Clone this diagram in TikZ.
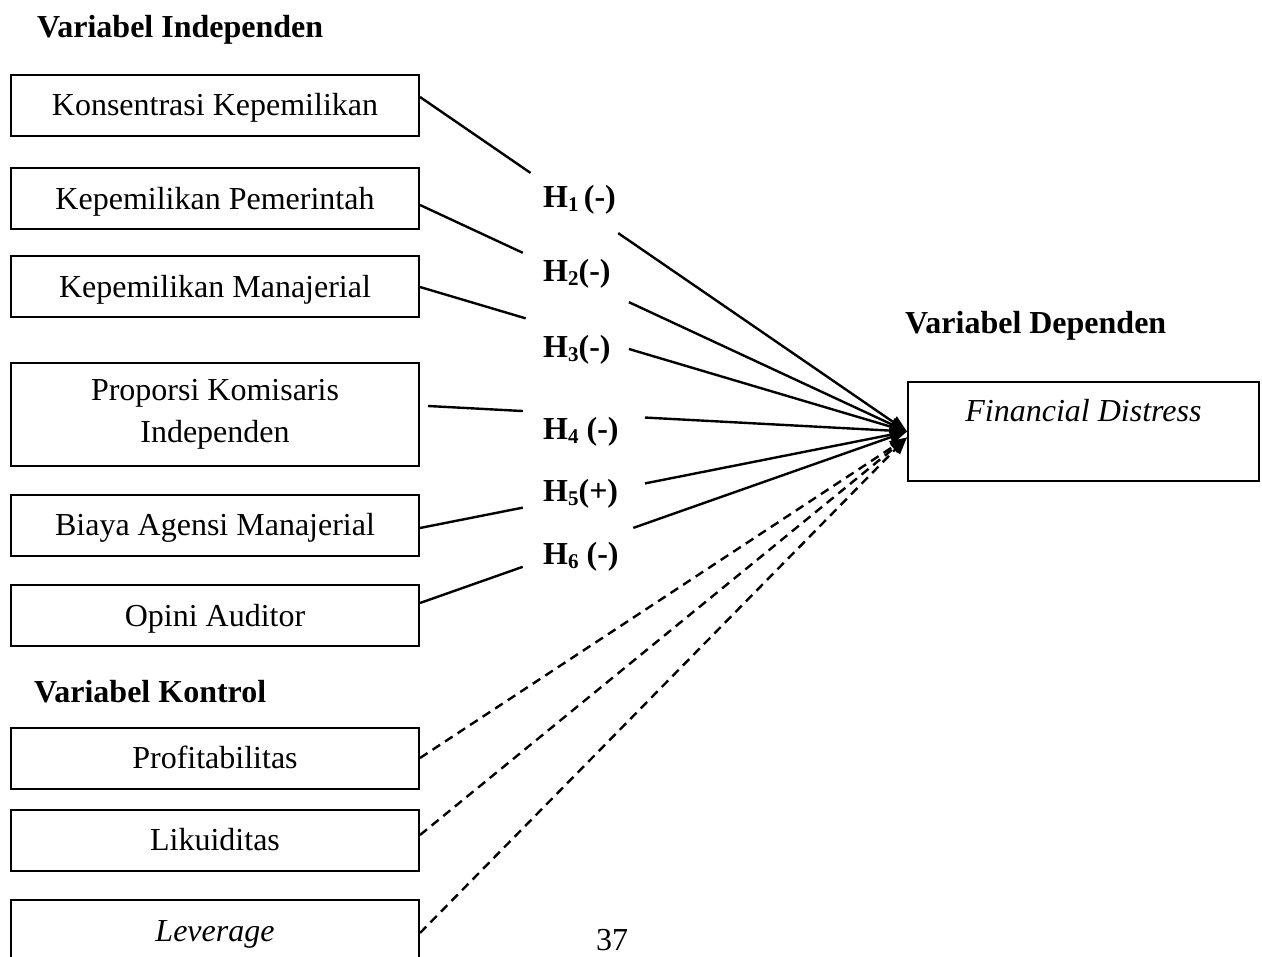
\documentclass[tikz,border=0pt]{standalone}
\usepackage{fontspec}
\setmainfont{Liberation Serif}
\usetikzlibrary{arrows.meta}
\newcommand{\hsub}[1]{\raisebox{-0.12em}{\fontsize{21}{21}\selectfont #1}}
\begin{document}
\begin{tikzpicture}[x=1pt,y=-1pt,
  big/.style={font=\fontsize{32}{42}\selectfont},
  box/.style={big, draw, line width=2pt, minimum width=408pt, minimum height=61pt,
    inner sep=0pt, text height=21pt, text depth=0pt, align=center},
  multi/.style={text height=, text depth=},
  head/.style={big, font=\fontsize{32}{42}\selectfont\bfseries, inner sep=0pt, anchor=base west},
  hyp/.style={head},
  conn/.style={line width=2.4pt},
  arr/.style={conn, -{Triangle[length=17pt,width=13pt]}},
  ctrl/.style={arr, dash pattern=on 9pt off 6pt}
]
\useasboundingbox (0,0) rectangle (1262,957);
\clip (0,0) rectangle (1262,957);

% headings
\node[head] (hi) at (37,38) {Variabel Independen};
\node[head] (hd) at (905,334) {Variabel Dependen};
\node[head] (hk) at (34,702) {Variabel Kontrol};

% independent variables
\node[box] (k1) at (215,105.5) {Konsentrasi Kepemilikan};
\node[box] (k2) at (215,199) {Kepemilikan Pemerintah};
\node[box] (k3) at (215,287) {Kepemilikan Manajerial};
\node[box, multi, minimum height=103pt] (k4) at (215,414.5) {Proporsi Komisaris\\Independen};
\node[box] (k5) at (215,525.5) {Biaya Agensi Manajerial};
\node[box] (k6) at (215,615.5) {Opini Auditor};

% control variables
\node[box] (k7) at (215,758) {Profitabilitas};
\node[box] (k8) at (215,840) {Likuiditas};
\node[box] (k9) at (215,930.5) {\textit{Leverage}};

% dependent variable
\node[box, multi, minimum width=351pt, minimum height=99pt] (fd) at (1083.5,431.5) {\textit{Financial Distress}\\\mbox{}};

% hypothesis labels
\node[hyp] (h1) at (543,208) {H\hsub{1}\,(-)};
\node[hyp] (h2) at (543,282) {H\hsub{2}(-)};
\node[hyp] (h3) at (543,358) {H\hsub{3}(-)};
\node[hyp] (h4) at (543,440) {H\hsub{4} (-)};
\node[hyp] (h5) at (543,502) {H\hsub{5}(+)};
\node[hyp] (h6) at (543,565) {H\hsub{6} (-)};

% page number
\node[big, inner sep=0pt, anchor=base] (pg) at (612,950) {37};

% connector end points
\coordinate (s1) at ([yshift=8.5pt]k1.east);
\coordinate (s2) at ([yshift=-6pt]k2.east);
\coordinate (s3) at (k3.east);
\coordinate (s4) at ([xshift=8pt,yshift=8.5pt]k4.east);
\coordinate (s5) at ([yshift=-2.5pt]k5.east);
\coordinate (s6) at ([yshift=12.5pt]k6.east);
\coordinate (s7) at (k7.east);
\coordinate (s8) at ([yshift=5pt]k8.east);
\coordinate (s9) at ([yshift=-2.5pt]k9.east);
\coordinate (t) at (fd.west);
\coordinate (td) at ([yshift=-6pt]fd.west);

% hypothesis connectors (interrupted at the labels)
\path (s1) -- (t) coordinate[pos=0.227] (a1) coordinate[pos=0.407] (b1);
\path (s2) -- (t) coordinate[pos=0.211] (a2) coordinate[pos=0.429] (b2);
\path (s3) -- (t) coordinate[pos=0.217] (a3) coordinate[pos=0.429] (b3);
\path (s4) -- (t) coordinate[pos=0.198] (a4) coordinate[pos=0.453] (b4);
\path (s5) -- (t) coordinate[pos=0.211] (a5) coordinate[pos=0.462] (b5);
\path (s6) -- (t) coordinate[pos=0.211] (a6) coordinate[pos=0.438] (b6);

\foreach \i in {1,...,6}{
  \draw[conn] (s\i) -- (a\i);
  \draw[arr] (b\i) -- (t);
}

% control connectors
\draw[ctrl] (s7) -- (td);
\draw[ctrl] (s8) -- (td);
\draw[ctrl] (s9) -- (td);
\end{tikzpicture}
\end{document}
